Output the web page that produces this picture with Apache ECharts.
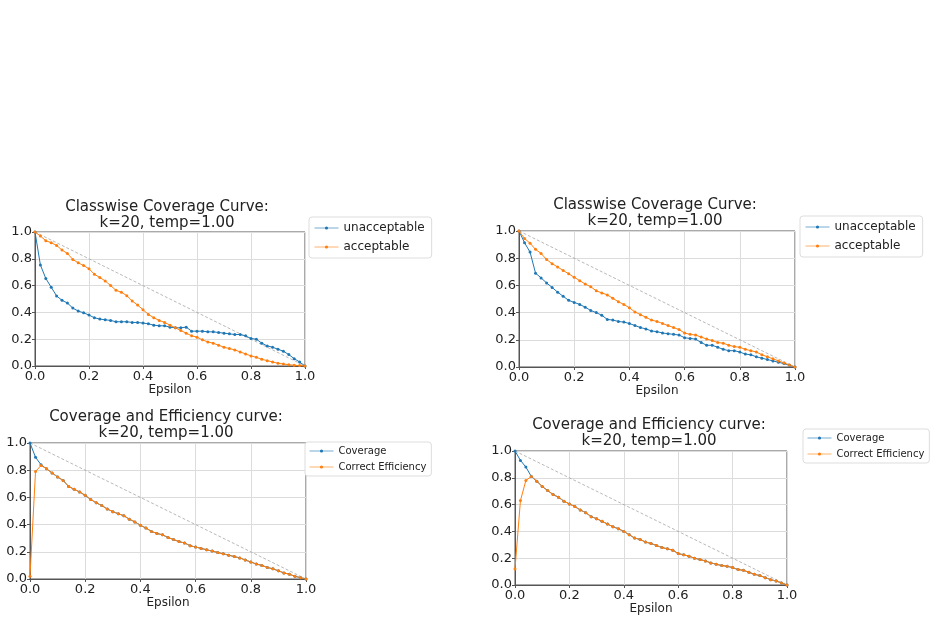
<!DOCTYPE html>
<html>
<head>
<meta charset="utf-8">
<style>
  html, body { margin: 0; padding: 0; background: #fff; }
  #main { width: 938px; height: 623px; }
</style>
<script src="https://cdn.jsdelivr.net/npm/echarts@6/dist/echarts.min.js"></script>
</head>
<body>
<div id="main"></div>
<script>
// epsilon values on the x axis
var eps = [0, 0.02, 0.04, 0.06, 0.08, 0.1, 0.12, 0.14, 0.16, 0.18,
  0.2, 0.22, 0.24, 0.26, 0.28, 0.3, 0.32, 0.34, 0.36, 0.38,
  0.4, 0.42, 0.44, 0.46, 0.48, 0.5, 0.52, 0.54, 0.56, 0.58,
  0.6, 0.62, 0.64, 0.66, 0.68, 0.7, 0.72, 0.74, 0.76, 0.78,
  0.8, 0.82, 0.84, 0.86, 0.88, 0.9, 0.92, 0.94, 0.96, 0.98, 1.0];
var tickLabels = ['0.0', '0.2', '0.4', '0.6', '0.8', '1.0'];
var diagonal = [[0, 1], [1, 0]];

// panel 1 - classwise coverage (left)
var unaccLeft = [1.0, 0.754, 0.653, 0.588, 0.523, 0.49, 0.47, 0.432, 0.41, 0.397,
  0.38, 0.36, 0.35, 0.345, 0.34, 0.33, 0.33, 0.33, 0.325, 0.325,
  0.32, 0.315, 0.305, 0.30, 0.30, 0.29, 0.285, 0.285, 0.29, 0.26,
  0.26, 0.26, 0.255, 0.255, 0.25, 0.245, 0.24, 0.235, 0.235, 0.225,
  0.205, 0.2, 0.17, 0.15, 0.14, 0.125, 0.11, 0.085, 0.055, 0.03, 0.0];
var accLeft = [1.0, 0.97, 0.935, 0.92, 0.9, 0.865, 0.84, 0.795, 0.77, 0.75,
  0.725, 0.685, 0.66, 0.635, 0.6, 0.565, 0.55, 0.525, 0.485, 0.455,
  0.42, 0.385, 0.36, 0.34, 0.325, 0.305, 0.285, 0.265, 0.245, 0.225,
  0.215, 0.195, 0.18, 0.17, 0.155, 0.14, 0.13, 0.12, 0.105, 0.09,
  0.075, 0.065, 0.05, 0.04, 0.03, 0.02, 0.015, 0.01, 0.005, 0.003, 0.0];

// panel 2 - classwise coverage (right)
var unaccRight = [1.0, 0.914, 0.845, 0.69, 0.655, 0.618, 0.585, 0.55, 0.52, 0.49,
  0.475, 0.46, 0.44, 0.415, 0.4, 0.38, 0.35, 0.345, 0.335, 0.33,
  0.32, 0.305, 0.29, 0.28, 0.265, 0.26, 0.25, 0.245, 0.24, 0.235,
  0.215, 0.21, 0.205, 0.18, 0.16, 0.16, 0.145, 0.13, 0.12, 0.12,
  0.11, 0.095, 0.09, 0.075, 0.065, 0.055, 0.045, 0.035, 0.025, 0.012, 0.0];
var accRight = [1.0, 0.945, 0.91, 0.865, 0.835, 0.79, 0.76, 0.735, 0.71, 0.685,
  0.66, 0.635, 0.61, 0.59, 0.56, 0.545, 0.53, 0.505, 0.48, 0.46,
  0.435, 0.405, 0.385, 0.365, 0.345, 0.335, 0.32, 0.305, 0.29, 0.275,
  0.25, 0.24, 0.235, 0.22, 0.205, 0.195, 0.18, 0.175, 0.16, 0.15,
  0.145, 0.13, 0.12, 0.11, 0.09, 0.075, 0.06, 0.045, 0.03, 0.015, 0.0];

// panel 3 - coverage & efficiency (left)
var covLeft = [1.0, 0.895, 0.84, 0.81, 0.78, 0.75, 0.725, 0.68, 0.66, 0.64,
  0.615, 0.585, 0.56, 0.54, 0.515, 0.495, 0.48, 0.465, 0.44, 0.42,
  0.395, 0.375, 0.35, 0.335, 0.325, 0.305, 0.29, 0.275, 0.265, 0.245,
  0.235, 0.225, 0.215, 0.205, 0.195, 0.185, 0.175, 0.165, 0.155, 0.14,
  0.125, 0.11, 0.1, 0.085, 0.075, 0.06, 0.045, 0.035, 0.02, 0.01, 0.0];
var effLeft = [0.02, 0.79, 0.835, 0.81, 0.78, 0.75, 0.725, 0.68, 0.66, 0.64,
  0.615, 0.585, 0.56, 0.54, 0.515, 0.495, 0.48, 0.465, 0.44, 0.42,
  0.395, 0.375, 0.35, 0.335, 0.325, 0.305, 0.29, 0.275, 0.265, 0.245,
  0.235, 0.225, 0.215, 0.205, 0.195, 0.185, 0.175, 0.165, 0.155, 0.14,
  0.125, 0.11, 0.1, 0.085, 0.075, 0.06, 0.045, 0.035, 0.02, 0.01, 0.0];

// panel 4 - coverage & efficiency (right)
var covRight = [1.0, 0.93, 0.88, 0.81, 0.775, 0.735, 0.705, 0.675, 0.655, 0.625,
  0.605, 0.585, 0.56, 0.54, 0.51, 0.495, 0.475, 0.455, 0.435, 0.42,
  0.4, 0.375, 0.35, 0.34, 0.32, 0.31, 0.295, 0.28, 0.27, 0.26,
  0.235, 0.225, 0.215, 0.2, 0.19, 0.18, 0.165, 0.155, 0.145, 0.14,
  0.13, 0.115, 0.11, 0.095, 0.08, 0.07, 0.055, 0.04, 0.03, 0.015, 0.0];
var effRight = [0.12, 0.63, 0.78, 0.81, 0.775, 0.735, 0.705, 0.675, 0.655, 0.625,
  0.605, 0.585, 0.56, 0.54, 0.51, 0.495, 0.475, 0.455, 0.435, 0.42,
  0.4, 0.375, 0.35, 0.34, 0.32, 0.31, 0.295, 0.28, 0.27, 0.26,
  0.235, 0.225, 0.215, 0.2, 0.19, 0.18, 0.165, 0.155, 0.145, 0.14,
  0.13, 0.115, 0.11, 0.095, 0.08, 0.07, 0.055, 0.04, 0.03, 0.015, 0.0];

var BLUE = '#1f77b4', ORANGE = '#ff7f0e';
var FONT = 'DejaVu Sans';

function pairs(ys) {
  return eps.map(function (x, i) { return [x, ys[i]]; });
}

var chart = echarts.init(document.getElementById('main'));

// one subplot: grid box, title, legend, axes
var panels = [
  {grid: {left: 35, top: 232, width: 270, height: 134}, titleX: 167, titleY: 199,
   title: 'Classwise Coverage Curve:\nk=20, temp=1.00',
   names: ['unacceptable', 'acceptable'], lines: [unaccLeft, accLeft],
   legend: {left: 309, top: 217, font: 12, gap: 7, pad: [5, 7, 5, 5]}},
  {grid: {left: 519, top: 231, width: 276, height: 136}, titleX: 655, titleY: 197,
   title: 'Classwise Coverage Curve:\nk=20, temp=1.00',
   names: ['unacceptable', 'acceptable'], lines: [unaccRight, accRight],
   legend: {left: 800, top: 216, font: 12, gap: 7, pad: [5, 7, 5, 5]}},
  {grid: {left: 30, top: 443, width: 276, height: 136}, titleX: 166, titleY: 409,
   title: 'Coverage and Efficiency curve:\nk=20, temp=1.00',
   names: ['Coverage', 'Correct Efficiency'], lines: [covLeft, effLeft],
   legend: {left: 305, top: 442, font: 10, gap: 6, pad: [4, 5, 4, 4]}},
  {grid: {left: 515, top: 451, width: 272, height: 134}, titleX: 649, titleY: 417,
   title: 'Coverage and Efficiency curve:\nk=20, temp=1.00',
   names: ['Coverage', 'Correct Efficiency'], lines: [covRight, effRight],
   legend: {left: 803, top: 429, font: 10, gap: 6, pad: [4, 5, 4, 4]}}
];

var option = {
  backgroundColor: '#fff',
  animation: false,
  textStyle: {fontFamily: FONT},
  title: [], legend: [], grid: [], xAxis: [], yAxis: [], series: []
};

panels.forEach(function (p, i) {
  option.grid.push(Object.assign({show: true, borderColor: '#555', borderWidth: 1,
    backgroundColor: 'transparent'}, p.grid));
  option.title.push({
    text: p.title, left: p.titleX, top: p.titleY, textAlign: 'center', padding: 0,
    textStyle: {fontFamily: FONT, fontSize: 15, fontWeight: 'normal', color: '#222', lineHeight: 16}
  });
  option.legend.push({
    orient: 'vertical', left: p.legend.left, top: p.legend.top,
    data: p.names, selectedMode: false,
    itemWidth: 24, itemHeight: 4, itemGap: p.legend.gap,
    padding: p.legend.pad, backgroundColor: '#fff',
    borderColor: '#ddd', borderWidth: 1, borderRadius: 3,
    lineStyle: {width: 1, opacity: 0.6},
    textStyle: {fontFamily: FONT, fontSize: p.legend.font, color: '#222'}
  });
  option.xAxis.push({
    type: 'value', gridIndex: i, min: 0, max: 1, interval: 0.2,
    name: 'Epsilon', nameLocation: 'middle', nameGap: 17,
    nameTextStyle: {fontFamily: FONT, fontSize: 12, color: '#222'},
    axisLine: {show: true, onZero: false, lineStyle: {color: '#555', width: 1}},
    axisTick: {show: true, length: 3, lineStyle: {color: '#555'}},
    axisLabel: {fontFamily: FONT, fontSize: 13, color: '#222', margin: 4,
      showMinLabel: true, showMaxLabel: true,
      formatter: function (v) { return tickLabels[Math.round(v * 5)]; }},
    splitLine: {show: true, lineStyle: {color: '#dcdcdc', width: 1}}
  });
  option.yAxis.push({
    type: 'value', gridIndex: i, min: 0, max: 1, interval: 0.2,
    axisLine: {show: true, onZero: false, lineStyle: {color: '#555', width: 1}},
    axisTick: {show: true, length: 3, lineStyle: {color: '#555'}},
    axisLabel: {fontFamily: FONT, fontSize: 13, color: '#222', margin: 3,
      showMinLabel: true, showMaxLabel: true,
      formatter: function (v) { return tickLabels[Math.round(v * 5)]; }},
    splitLine: {show: true, lineStyle: {color: '#dcdcdc', width: 1}}
  });
  option.series.push({
    type: 'line', xAxisIndex: i, yAxisIndex: i, data: diagonal,
    symbol: 'none', silent: true,
    lineStyle: {color: '#999', width: 0.7, type: [3, 2]}
  });
  [BLUE, ORANGE].forEach(function (c, k) {
    option.series.push({
      name: p.names[k], type: 'line', xAxisIndex: i, yAxisIndex: i,
      data: pairs(p.lines[k]), symbol: 'circle', symbolSize: 3,
      color: c, itemStyle: {color: c},
      lineStyle: {color: c, width: 1}
    });
  });
});

chart.setOption(option);
</script>
</body>
</html>
